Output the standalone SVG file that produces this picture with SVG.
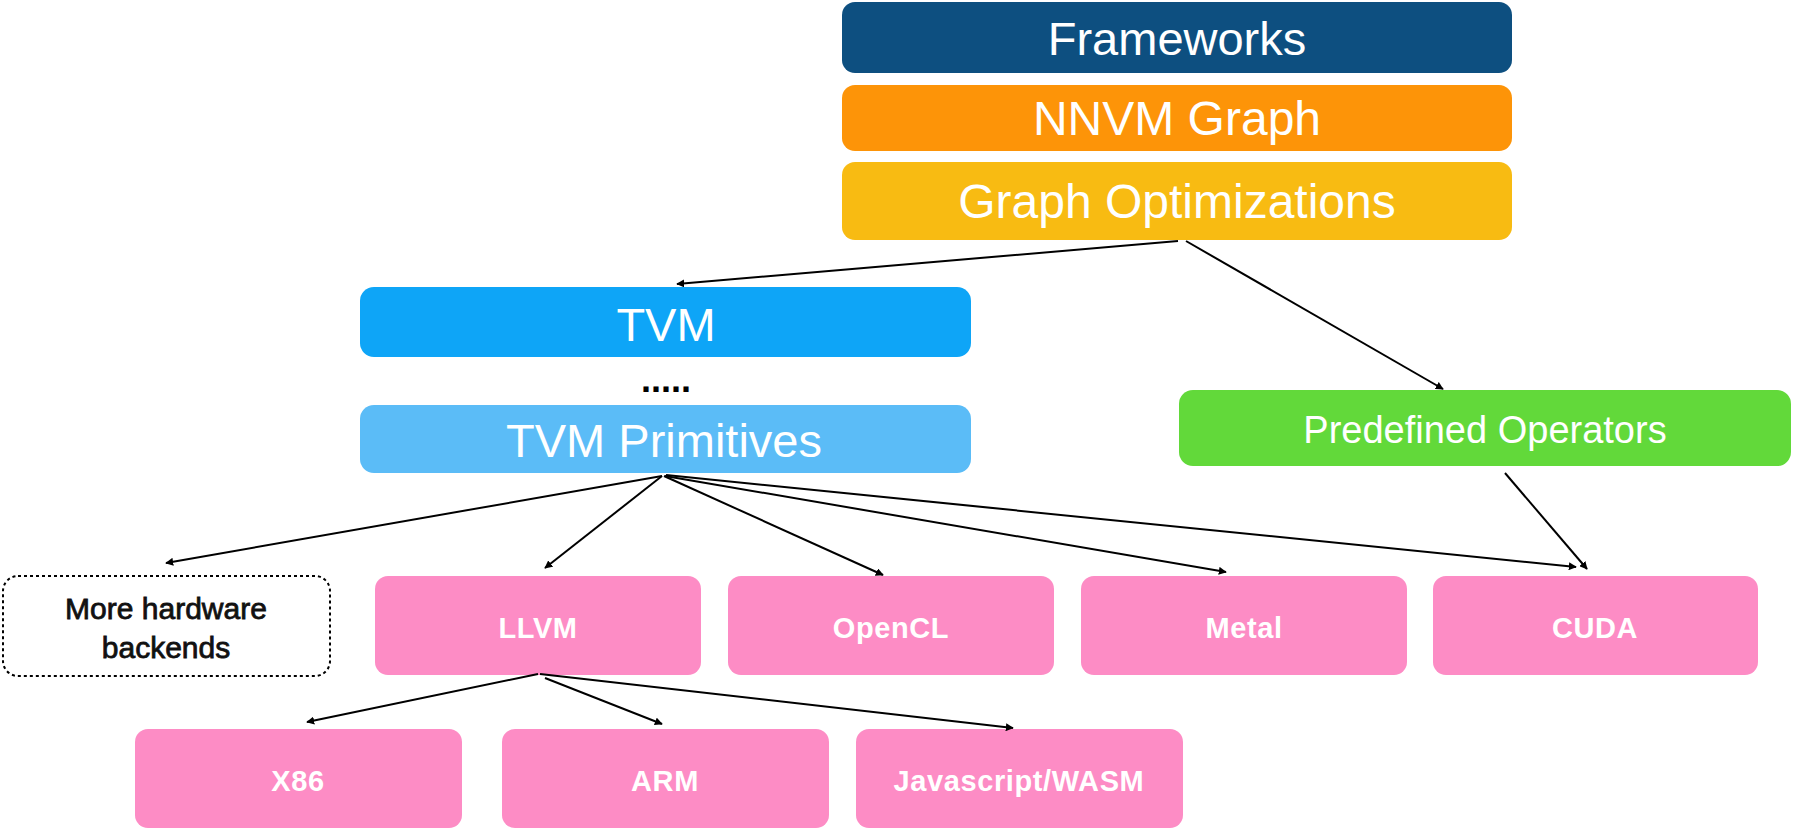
<svg xmlns="http://www.w3.org/2000/svg" width="1793" height="829" viewBox="0 0 1793 829">
<style>
.t{font-family:"Liberation Sans",Arial,sans-serif;fill:#fff;text-anchor:middle}
.big{font-size:47px}
.pk{fill:#fd8cc5}
.pt{font-family:"Liberation Sans",Arial,sans-serif;fill:#fff;text-anchor:middle;font-size:29px;font-weight:bold;letter-spacing:0.6px}
.mh{font-family:"Liberation Sans",Arial,sans-serif;font-size:30px;text-anchor:middle;fill:#111;stroke:#111;stroke-width:0.8}
.c line{stroke:#000;stroke-width:2;marker-end:url(#ah)}
</style>
<defs>
<marker id="ah" viewBox="0 0 10 10" refX="9" refY="5" markerWidth="8" markerHeight="8" markerUnits="userSpaceOnUse" orient="auto"><path d="M0,0 L10,5 L0,10 z" fill="#000"/></marker>
</defs>
<rect width="1793" height="829" fill="#fff"/>
<g id="frameworks"><rect x="842" y="2" width="670" height="71" rx="13" fill="#0d4f80"/><text class="t big" x="1177" y="55">Frameworks</text></g>
<g id="nnvm"><rect x="842" y="85" width="670" height="66" rx="13" fill="#fd9408"/><text class="t big" x="1177" y="135" style="font-size:48px">NNVM Graph</text></g>
<g id="graphopt"><rect x="842" y="162" width="670" height="78" rx="13" fill="#f8bb12"/><text class="t big" x="1177" y="218" style="font-size:48px">Graph Optimizations</text></g>
<g id="tvm"><rect x="360" y="287" width="611" height="70" rx="14" fill="#0ea5f7"/><text class="t big" x="666" y="341">TVM</text></g>
<g id="dots"><text x="666" y="392" style="font-family:'Liberation Sans',Arial,sans-serif;font-size:36px;font-weight:bold;text-anchor:middle;fill:#000">.....</text></g>
<g id="tvmprim"><rect x="360" y="405" width="611" height="68" rx="14" fill="#5bbcf7"/><text class="t big" x="664" y="457">TVM Primitives</text></g>
<g id="predef"><rect x="1179" y="390" width="612" height="76" rx="14" fill="#62d93a"/><text class="t" x="1485" y="443" style="font-size:38px">Predefined Operators</text></g>
<g id="more"><rect x="3" y="576" width="327" height="100" rx="15" fill="#fff" stroke="#000" stroke-width="2" stroke-dasharray="3,3"/><text class="mh" x="166" y="619">More hardware</text><text class="mh" x="166" y="658">backends</text></g>
<g id="llvm"><rect class="pk" x="375" y="576" width="326" height="99" rx="13"/><text class="pt" x="538" y="638">LLVM</text></g>
<g id="opencl"><rect class="pk" x="728" y="576" width="326" height="99" rx="13"/><text class="pt" x="891" y="638">OpenCL</text></g>
<g id="metal"><rect class="pk" x="1081" y="576" width="326" height="99" rx="13"/><text class="pt" x="1244" y="638">Metal</text></g>
<g id="cuda"><rect class="pk" x="1433" y="576" width="325" height="99" rx="13"/><text class="pt" x="1595" y="638">CUDA</text></g>
<g id="x86"><rect class="pk" x="135" y="729" width="327" height="99" rx="13"/><text class="pt" x="298" y="791">X86</text></g>
<g id="arm"><rect class="pk" x="502" y="729" width="327" height="99" rx="13"/><text class="pt" x="665" y="791">ARM</text></g>
<g id="js"><rect class="pk" x="856" y="729" width="327" height="99" rx="13"/><text class="pt" x="1019" y="791">Javascript/WASM</text></g>
<g id="connectors" class="c">
<line x1="1178" y1="241" x2="677" y2="284"/>
<line x1="1186" y1="241" x2="1443" y2="389"/>
<line x1="662" y1="476" x2="166" y2="563"/>
<line x1="662" y1="476" x2="545" y2="568"/>
<line x1="664" y1="476" x2="883" y2="575"/>
<line x1="665" y1="476" x2="1226" y2="572"/>
<line x1="666" y1="475" x2="1576" y2="567"/>
<line x1="1505" y1="473" x2="1587" y2="569"/>
<line x1="538" y1="674" x2="307" y2="722"/>
<line x1="545" y1="678" x2="662" y2="724"/>
<line x1="540" y1="674" x2="1013" y2="728"/>
</g>
</svg>
